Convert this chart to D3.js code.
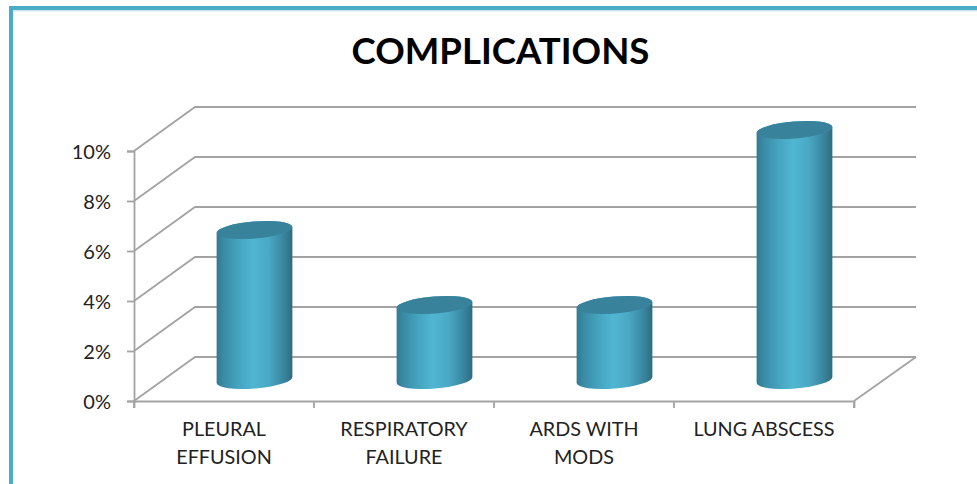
<!DOCTYPE html>
<html><head><meta charset="utf-8">
<script src="https://d3js.org/d3.v7.min.js"></script>
<style>html,body{margin:0;padding:0;background:#fff}svg{display:block}</style>
</head><body><svg id="c" width="977" height="484"></svg>
<script>
const chartTitle = "COMPLICATIONS";
const categories = ["PLEURAL EFFUSION", "RESPIRATORY FAILURE", "ARDS WITH MODS", "LUNG ABSCESS"];
const labelLines = [["PLEURAL", "EFFUSION"], ["RESPIRATORY", "FAILURE"], ["ARDS WITH", "MODS"], ["LUNG ABSCESS"]];
const values = [6, 3, 3, 10];
const yTicks = [0, 2, 4, 6, 8, 10];

const svg = d3.select("#c");
const L = 134, R = 854, B = 401, T = 151, DX = 61, DY = -44;
const grey = "#a3a3a3", font = "Lato, 'Open Sans', sans-serif";
const x = d3.scaleBand().domain(categories).range([L, R]).paddingInner(0);
const y = d3.scaleLinear().domain([0, 10]).range([B, T]);

// frame
svg.append("rect").attr("x", 13).attr("y", 10).attr("width", 964).attr("height", 1.5).attr("fill", "#cfe8ef");
svg.append("rect").attr("x", 9).attr("y", 6).attr("width", 968).attr("height", 4).attr("fill", "#4bacc6");
svg.append("rect").attr("x", 9).attr("y", 6).attr("width", 4).attr("height", 478).attr("fill", "#4bacc6");

// title
svg.append("text").attr("x", 500.5).attr("y", 64).attr("text-anchor", "middle")
  .attr("font-family", font).attr("font-weight", 700).attr("font-size", 36.6).attr("fill", "#000").text(chartTitle);

// walls
const grid = svg.append("g").attr("fill", "none").attr("stroke", grey).attr("stroke-width", 1.8);
yTicks.forEach(t => {
  grid.append("path").attr("d", d3.line()([[L, y(t)], [L + DX, y(t) + DY], [R + DX + 1, y(t) + DY]]));
});
grid.append("path").attr("d", d3.line()([[R, B], [R + DX + 1, B + DY]]));

// axes
const yAxis = d3.axisLeft(y).tickValues(yTicks).tickFormat(d => d + "%").tickSize(7).tickPadding(16);
const xAxis = d3.axisBottom(x).tickValues([]).tickSizeOuter(7);
const gy = svg.append("g").attr("transform", `translate(${L},0)`).call(yAxis);
const gx = svg.append("g").attr("transform", `translate(0,${B})`).call(xAxis);
gy.select(".domain").attr("stroke", grey).attr("stroke-width", 1.8);
gy.selectAll("line").attr("stroke", grey).attr("stroke-width", 1.8);
gy.selectAll("text").attr("font-family", font).attr("font-size", 20).attr("fill", "#222").attr("y", 1);
gx.select(".domain").attr("stroke", grey).attr("stroke-width", 1.8);
const xt = categories.map(c => x(c)).concat([R]);
gx.selectAll("line.sep").data(xt).join("line").attr("class", "sep")
  .attr("x1", d => d).attr("x2", d => d).attr("y1", 0).attr("y2", 7)
  .attr("stroke", grey).attr("stroke-width", 1.8);

// x labels
const lab = svg.append("g").attr("font-family", font).attr("font-size", 19.8).attr("fill", "#222").attr("text-anchor", "middle");
categories.forEach((c, i) => {
  labelLines[i].forEach((ln, j) => {
    lab.append("text").attr("x", x(c) + x.bandwidth() / 2).attr("y", 436 + j * 28).text(ln);
  });
});

// cylinders
const defs = svg.append("defs");
const g = defs.append("linearGradient").attr("id", "cyl").attr("x1", 0).attr("x2", 1).attr("y1", 0).attr("y2", 0);
[[0, "#327a91"], [0.1, "#3a8ca7"], [0.3, "#46a5c1"], [0.48, "#50b6d2"], [0.68, "#4aa9c5"], [0.85, "#3c8ca6"], [1, "#2e6c80"]]
  .forEach(s => g.append("stop").attr("offset", s[0]).attr("stop-color", s[1]));
const rx = 38, ry = 8.5, tilt = -4.6;
const cdx = Math.cos(tilt * Math.PI / 180) * rx, cdy = Math.sin(tilt * Math.PI / 180) * rx;
const bars = svg.append("g").selectAll("g").data(categories).join("g");
bars.each(function (c, i) {
  const s = d3.select(this);
  const cx = x(c) + x.bandwidth() / 2 + DX / 2;
  const yb = y(0) + DY / 2 + 1, yt = y(values[i]) + DY / 2 + 1;
  const a = `${rx} ${ry} ${tilt}`;
  s.append("path").attr("fill", "url(#cyl)")
    .attr("d", `M${cx - cdx},${yt - cdy} L${cx - cdx},${yb - cdy} A${a} 0 0 ${cx + cdx},${yb + cdy} L${cx + cdx},${yt + cdy} A${a} 0 0 ${cx - cdx},${yt - cdy} Z`);
  s.append("ellipse").attr("cx", cx).attr("cy", yt).attr("rx", rx).attr("ry", ry)
    .attr("transform", `rotate(${tilt} ${cx} ${yt})`).attr("fill", "#38839b");
});
</script></body></html>
